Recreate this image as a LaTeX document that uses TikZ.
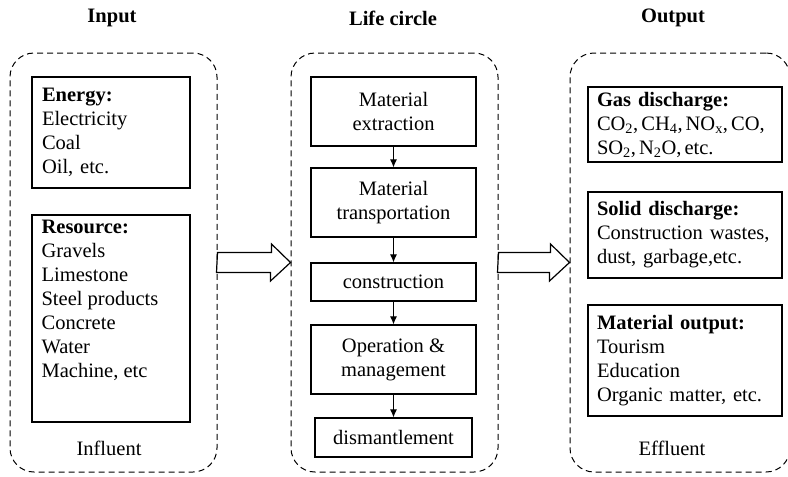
\documentclass[tikz,border=0pt]{standalone}
\usepackage{fontspec}
\setmainfont{Liberation Serif}
\usetikzlibrary{arrows.meta,calc}

\newcommand{\gsep}{,\hspace{0.15em}}

\tikzset{
  container/.style={draw,dash pattern=on 6pt off 4pt,rounded corners=24pt,line width=1pt,
    minimum width=207pt,minimum height=419pt},
  itembox/.style={draw,line width=1.2pt,align=left,inner xsep=10pt,text width=138pt},
  stagebox/.style={draw,line width=1.2pt,align=center,minimum width=165pt,minimum height=69pt},
  heading/.style={font=\fontsize{20.5}{24}\selectfont\bfseries},
  flow/.style={-{Latex[length=8pt,width=7pt]},line width=1pt},
  bigarrow/.style={draw,line width=1.2pt,fill=white}
}

\begin{document}
\begin{tikzpicture}[x=1pt,y=-1pt,font=\fontsize{20.5}{24}\selectfont]
\useasboundingbox (0,0) rectangle (788,477);
\clip (0,0) rectangle (788,477);

\node[heading] (inputtitle) at (112,18) {Input};
\node[heading] (lifetitle) at (393,18) {Life circle};
\node[heading] (outputtitle) at (673,18) {Output};

\node[container] (input) at (113.5,262.5) {};
\node[container] (life) at (394.5,262.5) {};
\node[container,minimum width=220pt] (output) at (680,262.5) {};

% influent
\begin{scope}
\node[itembox,minimum height=111pt] (energy) at (111,132.5)
  {\textbf{Energy:}\\Electricity\\Coal\\Oil, etc.};
\node[itembox,minimum height=207pt] (resource) at (111,318.5) {};
\node[anchor=north west,align=left,inner xsep=10pt,inner ysep=5pt] (resourcetext) at (resource.north west)
  {\textbf{Resource:}\\Gravels\\Limestone\\Steel products\\Concrete\\Water\\Machine, etc};
\node (influent) at (109,448) {Influent};
\end{scope}

% life circle
\begin{scope}
\node[stagebox] (extraction) at (393.5,111.5) {Material\\extraction};
\node[stagebox] (transport) at (393.5,202.5) {Material\\transportation};
\node[stagebox,minimum height=38pt] (construction) at (393.5,282) {construction};
\node[stagebox] (operation) at (393.5,359.5) {Operation \&\\management};
\node[stagebox,minimum width=157pt,minimum height=39pt] (dismantle) at (393.5,437.5) {dismantlement};

\draw[flow] (extraction) -- (transport);
\draw[flow] (transport) -- (construction);
\draw[flow] (construction) -- (operation);
\draw[flow] (operation) -- (dismantle);
\end{scope}

% effluent
\begin{scope}
\node[itembox,inner xsep=9pt,text width=176pt,minimum height=75pt] (gas) at (685,124.5)
  {\textbf{Gas discharge:}\\\mbox{CO\textsubscript{2}\gsep CH\textsubscript{4}\gsep NO\textsubscript{x}\gsep CO,}\\SO\textsubscript{2}\gsep N\textsubscript{2}O\gsep etc.};
\node[itembox,inner xsep=9pt,text width=176pt,minimum height=86pt] (solid) at (685,235)
  {\textbf{Solid discharge:}\\Construction wastes,\\dust, garbage,etc.};
\node[itembox,inner xsep=9pt,text width=176pt,minimum height=111pt] (matout) at (685,360.5)
  {\textbf{Material output:}\\Tourism\\Education\\Organic matter, etc.};
\node (effluent) at (672,448) {Effluent};
\end{scope}

\draw[bigarrow] (input.east) ++(0,-10) -- ++(54,0) -- ++(0,-8.5) -- (life.west)
  -- ++(-20,18.5) -- ++(0,-8.5) -- ++(-54,0) -- cycle;
\draw[bigarrow] (life.east) ++(0,-10) -- ++(52,0) -- ++(0,-8.5) -- (output.west)
  -- ++(-20,18.5) -- ++(0,-8.5) -- ++(-52,0) -- cycle;

\end{tikzpicture}
\end{document}
